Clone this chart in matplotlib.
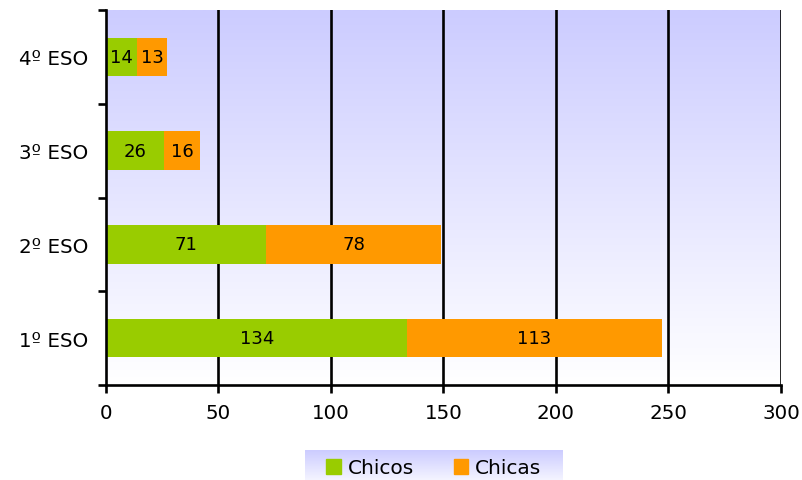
import matplotlib
matplotlib.use("Agg")
import matplotlib.pyplot as plt
import numpy as np
from matplotlib.colors import LinearSegmentedColormap
from matplotlib.patches import Patch

cursos = ['1º ESO', '2º ESO', '3º ESO', '4º ESO']
chicos = [134, 71, 26, 14]
chicas = [113, 78, 16, 13]
x_ticks = [0, 50, 100, 150, 200, 250, 300]

VERDE = '#99cc00'
NARANJA = '#ff9900'

plt.rcParams['font.family'] = ['DejaVu Sans']
grad = LinearSegmentedColormap.from_list('fondo', ['#ffffff', '#ccccff'])

fig = plt.figure(figsize=(8.03, 4.81), dpi=100)
ax = fig.add_axes([106 / 803, 95 / 481, 675 / 803, 375 / 481])

# fondo degradado
g = np.linspace(0, 1, 256).reshape(-1, 1)
ax.imshow(g, cmap=grad, origin='lower', aspect='auto',
          extent=[0, 300, -0.5, 3.5], zorder=0)

y = np.arange(len(cursos))
ax.barh(y, chicos, height=0.41, color=VERDE, zorder=3, label='Chicos')
ax.barh(y, chicas, left=chicos, height=0.41, color=NARANJA, zorder=3, label='Chicas')

for i in range(len(cursos)):
    ax.text(chicos[i] / 2, y[i], str(chicos[i]), ha='center', va='center',
            fontsize=13, zorder=4)
    ax.text(chicos[i] + chicas[i] / 2, y[i], str(chicas[i]), ha='center',
            va='center', fontsize=13, zorder=4)

ax.set_xlim(0, 300)
ax.set_ylim(-0.5, 3.5)
ax.set_xticks(x_ticks)
ax.set_yticks(y)
ax.set_yticklabels(cursos)
ax.set_yticks(np.arange(-0.5, 4, 1), minor=True)

for v in x_ticks[1:]:
    ax.axvline(v, color='black', lw=1.9, zorder=1)

for s in ['top', 'right']:
    ax.spines[s].set_visible(False)
for s in ['left', 'bottom']:
    ax.spines[s].set_linewidth(1.9)
    ax.spines[s].set_zorder(5)

ax.tick_params(axis='x', direction='out', length=6, width=1.9, pad=7, labelsize=14.3)
ax.tick_params(axis='y', which='major', length=0, pad=13, labelsize=14.3)
ax.tick_params(axis='y', which='minor', direction='out', length=6, width=1.9)

# leyenda con fondo degradado
lax = fig.add_axes([305 / 803, 0, 258 / 803, 30 / 481])
lax.imshow(g, cmap=LinearSegmentedColormap.from_list('ley', ['#f4f4ff', '#ccccff']),
           origin='lower', aspect='auto', extent=[0, 1, 0, 1])
lax.axis('off')
handles = [Patch(color=VERDE, label='Chicos'), Patch(color=NARANJA, label='Chicas')]
lax.legend(handles=handles, loc='center', ncol=2, frameon=False, fontsize=14.5,
           handlelength=0.7, handleheight=0.7, handletextpad=0.35,
           columnspacing=2.0, bbox_to_anchor=(0.5, 0.4))

fig.savefig('out.png', dpi=100)
